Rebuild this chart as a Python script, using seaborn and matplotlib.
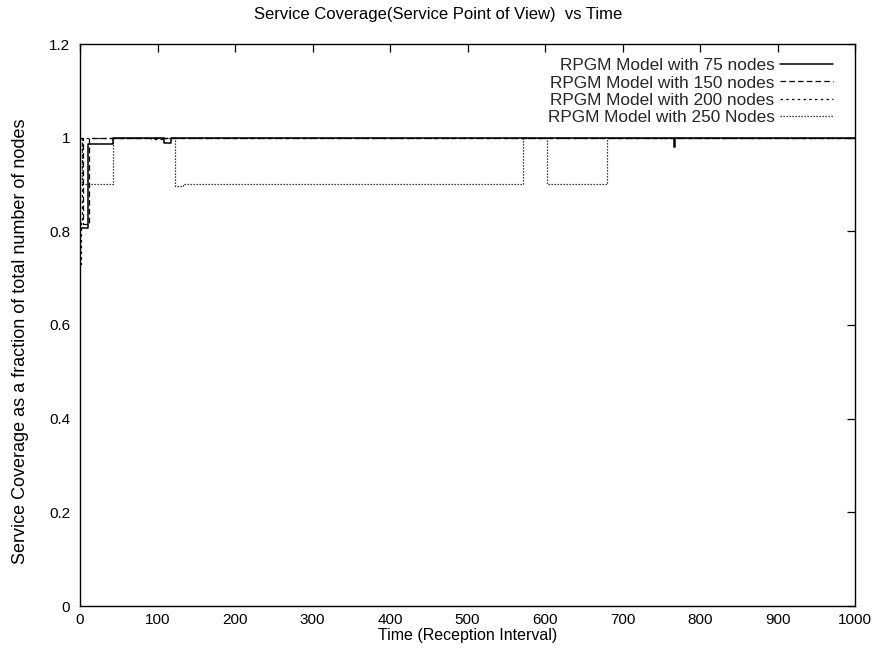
import matplotlib
matplotlib.use("Agg")
import matplotlib.pyplot as plt
import seaborn as sns
import numpy as np

# ---- data ----
t_75 = [0, 10, 42, 109, 118, 767, 768, 1000]
v_75 = [0.807, 0.986, 1.0, 0.988, 1.0, 0.98, 1.0, 1.0]

t_150 = [0, 4, 11, 1000]
v_150 = [1.0, 0.815, 1.0, 1.0]

t_200 = [0, 1, 3, 92, 108, 1000]
v_200 = [0.73, 0.82, 1.0, 0.997, 1.0, 1.0]

t_250 = [0, 2.5, 43, 122, 133, 572, 602, 680, 1000]
v_250 = [1.0, 0.9, 1.0, 0.897, 0.9, 1.0, 0.9, 1.0, 1.0]

labels = ["RPGM Model with 75 nodes", "RPGM Model with 150 nodes",
          "RPGM Model with 200 nodes", "RPGM Model with 250 Nodes"]
x_ticks = [0, 100, 200, 300, 400, 500, 600, 700, 800, 900, 1000]
y_ticks = [0, 0.2, 0.4, 0.6, 0.8, 1.0, 1.2]
y_tick_labels = ["0", "0.2", "0.4", "0.6", "0.8", "1", "1.2"]

title = "Service Coverage(Service Point of View)  vs Time"
xlabel = "Time (Reception Interval)"
ylabel = "Service Coverage as a fraction of total number of nodes"

sns.set_theme(style="white")
plt.rcParams["font.family"] = ["Liberation Sans", "DejaVu Sans"]

fig = plt.figure(figsize=(8.76, 6.66), dpi=100)
ax = fig.add_axes([80 / 876, 60 / 666, 775 / 876, 562 / 666])

series = [(t_75, v_75, None, 1.1),
          (t_150, v_150, (4.5, 2.5), 0.9),
          (t_200, v_200, (2.0, 2.6), 0.9),
          (t_250, v_250, (1.0, 1.4), 0.9)]

for (t, v, dash, lw), lab in zip(series, labels):
    sns.lineplot(x=t, y=v, ax=ax, color="black", lw=lw, estimator=None,
                 sort=False, drawstyle="steps-post", label=lab)
    line = ax.get_lines()[-1]
    if dash is not None:
        line.set_dashes(dash)

ax.set_xlim(0, 1000)
ax.set_ylim(0, 1.2)
ax.set_xticks(x_ticks)
ax.set_xticklabels([str(x) for x in x_ticks])
ax.set_yticks(y_ticks)
ax.set_yticklabels(y_tick_labels)
ax.tick_params(direction="in", length=6, width=0.9, top=True, right=True,
               labelsize=11, colors="black")
ax.tick_params(axis="y", pad=7)
ax.tick_params(axis="x", pad=5)
for s in ax.spines.values():
    s.set_color("black")
    s.set_linewidth(1.0)

fig.text(438 / 876, 1 - 15 / 666, title, fontsize=12, ha="center",
         va="center", color="black")
ax.set_xlabel(xlabel, fontsize=11.5, labelpad=1, color="black")
ax.set_ylabel(ylabel, fontsize=13, color="black")
ax.yaxis.set_label_coords(-0.066, (606 - 341) / 562)

leg = ax.legend(loc="upper right", bbox_to_anchor=(753 / 775, (606 - 58) / 562),
                frameon=False, markerfirst=False, fontsize=12.4,
                handlelength=3.1, handletextpad=0.3, labelspacing=0.14,
                borderpad=0, borderaxespad=0)

fig.savefig("out.png", dpi=100)
